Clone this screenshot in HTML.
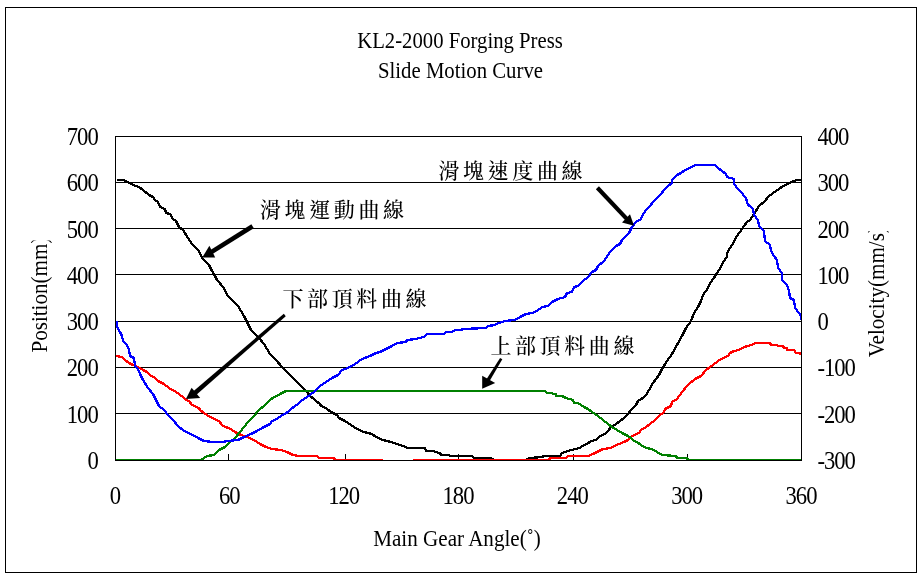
<!DOCTYPE html><html><head><meta charset="utf-8"><style>html,body{margin:0;padding:0;background:#fff;}svg{display:block;}</style></head><body><svg width="924" height="578" viewBox="0 0 924 578" font-family="Liberation Serif, Times New Roman, serif" fill="#000"><rect x="5.5" y="7.5" width="911" height="565" fill="#fff" stroke="#000" stroke-width="1"/><line x1="115" y1="182.5" x2="801" y2="182.5" stroke="#000" stroke-width="1"/><line x1="115" y1="228.5" x2="801" y2="228.5" stroke="#000" stroke-width="1"/><line x1="115" y1="274.5" x2="801" y2="274.5" stroke="#000" stroke-width="1"/><line x1="115" y1="321.5" x2="801" y2="321.5" stroke="#000" stroke-width="1"/><line x1="115" y1="367.5" x2="801" y2="367.5" stroke="#000" stroke-width="1"/><line x1="115" y1="413.5" x2="801" y2="413.5" stroke="#000" stroke-width="1"/><clipPath id="pc"><rect x="116" y="137" width="685" height="323"/></clipPath><rect x="228" y="454" width="1" height="6" fill="#000"/><rect x="345" y="454" width="1" height="6" fill="#000"/><rect x="458" y="454" width="1" height="6" fill="#000"/><rect x="573" y="454" width="1" height="6" fill="#000"/><rect x="687" y="454" width="1" height="6" fill="#000"/><g clip-path="url(#pc)"><polyline points="117,180 117,180 123,180 128,182 133,185 139,187 143,190 149,195 153,197 155,200 158,202 160,207 165,209 166,213 170,214 173,219 176,221 179,227 183,230 188,238 192,244 199,251 202,258 209,265 212,271 214,274 217,280 224,288 227,295 231,299 238,306 244,316 247,322 251,330 255,334 259,338 264,344 270,354 276,360 282,367 289,374 295,380 301,386 307,392 310,396 314,399 316,401 320,404 321,406 326,408 327,409 331,412 337,415 339,418 345,421 351,425 357,429 364,432 372,434 376,437 383,440 391,442 397,444 403,446 408,448 412,448 425,448 426,451 434,451 435,452 440,453 441,455 449,455 450,456 472,456 474,458 490,458 495,460 525,460 530,458 542,457 544,456 560,456 562,453 568,451 575,449 580,448 582,446 587,444 591,441 596,440 600,436 605,434 608,431 611,427 616,424 620,421 624,418 628,414 631,410 634,407 636,405 638,401 641,399 643,398 646,395 649,390 653,383 659,375 662,369 667,361 672,354 677,345 682,336 686,328 691,321 694,313 698,307 701,301 703,295 708,288 710,283 714,278 716,274 720,269 723,262 727,257 727,253 730,248 734,242 736,237 740,232 744,226 747,222 750,220 754,214 759,206 765,201 768,197 773,193 779,189 783,186 788,184 791,182 797,180 801,180" fill="none" stroke="#000" stroke-width="2.3" stroke-linejoin="miter" shape-rendering="crispEdges"/><polyline points="116,356 122,357 125,360 129,363 133,365 138,367 143,370 147,372 150,375 155,378 158,381 164,384 169,388 176,392 183,397 186,400 189,401 192,405 199,408 200,410 204,413 210,417 211,417 216,420 219,421 222,425 225,427 229,428 235,432 241,435 247,437 254,440 260,444 266,447 272,449 281,450 287,452 293,455 299,456 317,456 319,458 334,458 335,460 382,460 383,462 414,462 414,460 549,460 550,458 566,458 568,456 588,456 593,454 597,452 603,449 611,448 616,445 619,444 624,442 628,440 632,436 639,433 641,430 646,427 650,424 655,420 659,416 664,412 665,409 671,406 672,402 677,399 682,392 688,385 695,379 701,376 706,370 713,365 718,361 725,357 728,356 730,353 734,351 739,350 744,347 748,346 754,344 755,343 770,343 771,345 777,345 778,346 783,346 784,348 787,348 787,350 794,350 796,353 800,353 801,355" fill="none" stroke="#f00" stroke-width="2.3" stroke-linejoin="miter" shape-rendering="crispEdges"/><polyline points="115,460 201,460 207,456 214,455 219,450 225,447 229,443 235,438 240,432 244,427 248,422 254,416 258,411 265,405 270,400 274,397 277,396 280,394 286,391 545,391 547,393 552,393 553,394 556,394 556,396 562,396 566,398 573,400 574,403 578,403 584,407 588,409 592,412 598,416 603,420 608,424 612,427 617,430 622,433 628,436 631,438 634,441 637,442 641,445 646,448 652,449 657,452 662,455 676,456 677,458 687,458 688,460 801,460" fill="none" stroke="#008000" stroke-width="2.3" stroke-linejoin="miter" shape-rendering="crispEdges"/><polyline points="116,322 117,322 117,327 120,332 122,336 123,341 127,345 129,350 130,356 134,358 135,366 138,369 140,374 143,380 148,388 153,394 156,400 159,406 164,410 168,415 173,420 178,426 184,431 191,434 198,438 204,441 213,442 222,442 228,441 238,440 244,437 251,434 257,431 262,428 270,424 272,421 277,419 282,415 285,414 289,411 291,409 295,406 298,404 301,401 307,397 314,392 320,386 326,382 332,378 338,375 342,370 348,368 355,364 362,359 370,356 376,353 380,352 382,351 386,349 392,346 397,343 406,342 407,340 416,339 419,338 424,337 427,334 429,334 444,334 446,332 452,332 455,330 461,330 463,329 486,328 488,326 495,325 496,324 505,321 515,320 520,317 526,314 532,313 537,311 542,307 548,306 552,302 558,299 565,297 567,293 572,292 574,287 578,286 583,281 588,277 592,272 596,270 598,266 604,261 610,252 616,246 620,244 622,240 629,233 632,227 636,222 641,219 642,216 646,210 651,205 652,203 660,195 665,189 668,186 672,183 672,180 677,175 681,173 685,170 690,168 695,165 715,165 718,168 722,171 726,174 727,177 734,179 734,184 738,189 741,192 745,197 746,198 747,202 748,205 750,206 753,209 754,215 758,220 759,226 764,231 765,241 770,245 771,251 774,256 777,260 778,268 782,273 782,280 787,285 789,291 790,298 794,300 795,308 799,313 801,316 801,320" fill="none" stroke="#00f" stroke-width="2.3" stroke-linejoin="miter" shape-rendering="crispEdges"/></g><rect x="115.5" y="136.5" width="686" height="324" fill="none" stroke="#000" stroke-width="1"/><polygon points="251.38,224.25 208.05,251.45 210.49,255.35 253.82,228.15" fill="#000"/><polygon points="202.2,257.6 209.4,245.8 215.2,257.4" fill="#000"/><polygon points="595.87,189.24 626.87,222.06 629.93,219.18 598.93,186.36" fill="#000"/><polygon points="634.0,225.8 630.0,214.2 622.0,222.6" fill="#000"/><polygon points="283.82,313.87 191.33,392.88 194.47,396.51 285.78,316.13" fill="#000"/><polygon points="185.9,399.0 191.6,387.8 200.2,397.9" fill="#000"/><polygon points="500.09,357.92 485.22,381.24 488.28,383.13 502.31,359.28" fill="#000"/><polygon points="482.2,388.8 482.2,375.8 495.2,382.9" fill="#000"/><g ><text x="0" y="0" font-size="24" text-anchor="middle" transform="translate(460,48) scale(0.863,1)" >KL2-2000 Forging Press</text><text x="0" y="0" font-size="24" text-anchor="middle" transform="translate(460.5,77.5) scale(0.866,1)" >Slide Motion Curve</text><text x="0" y="0" font-size="24.8" text-anchor="end" transform="translate(97.7,145.0) scale(0.914,1)"  letter-spacing="-1.13">700</text><text x="0" y="0" font-size="24.8" text-anchor="end" transform="translate(97.7,191.3) scale(0.914,1)"  letter-spacing="-1.13">600</text><text x="0" y="0" font-size="24.8" text-anchor="end" transform="translate(97.7,237.6) scale(0.914,1)"  letter-spacing="-1.13">500</text><text x="0" y="0" font-size="24.8" text-anchor="end" transform="translate(97.7,283.9) scale(0.914,1)"  letter-spacing="-1.13">400</text><text x="0" y="0" font-size="24.8" text-anchor="end" transform="translate(97.7,330.1) scale(0.914,1)"  letter-spacing="-1.13">300</text><text x="0" y="0" font-size="24.8" text-anchor="end" transform="translate(97.7,376.4) scale(0.914,1)"  letter-spacing="-1.13">200</text><text x="0" y="0" font-size="24.8" text-anchor="end" transform="translate(97.7,422.7) scale(0.914,1)"  letter-spacing="-1.13">100</text><text x="0" y="0" font-size="24.8" text-anchor="end" transform="translate(97.7,469.0) scale(0.914,1)"  letter-spacing="-1.13">0</text><text x="0" y="0" font-size="24.8" text-anchor="start" transform="translate(817.5,145.0) scale(0.914,1)"  letter-spacing="-1.13">400</text><text x="0" y="0" font-size="24.8" text-anchor="start" transform="translate(817.5,191.3) scale(0.914,1)"  letter-spacing="-1.13">300</text><text x="0" y="0" font-size="24.8" text-anchor="start" transform="translate(817.5,237.6) scale(0.914,1)"  letter-spacing="-1.13">200</text><text x="0" y="0" font-size="24.8" text-anchor="start" transform="translate(817.5,283.9) scale(0.914,1)"  letter-spacing="-1.13">100</text><text x="0" y="0" font-size="24.8" text-anchor="start" transform="translate(817.5,330.1) scale(0.914,1)"  letter-spacing="-1.13">0</text><text x="0" y="0" font-size="24.8" text-anchor="start" transform="translate(817.5,376.4) scale(0.914,1)"  letter-spacing="-1.13">-100</text><text x="0" y="0" font-size="24.8" text-anchor="start" transform="translate(817.5,422.7) scale(0.914,1)"  letter-spacing="-1.13">-200</text><text x="0" y="0" font-size="24.8" text-anchor="start" transform="translate(817.5,469.0) scale(0.914,1)"  letter-spacing="-1.13">-300</text><text x="0" y="0" font-size="24.8" text-anchor="middle" transform="translate(115.0,503.5) scale(0.914,1)"  letter-spacing="-1.13">0</text><text x="0" y="0" font-size="24.8" text-anchor="middle" transform="translate(229.3,503.5) scale(0.914,1)"  letter-spacing="-1.13">60</text><text x="0" y="0" font-size="24.8" text-anchor="middle" transform="translate(343.7,503.5) scale(0.914,1)"  letter-spacing="-1.13">120</text><text x="0" y="0" font-size="24.8" text-anchor="middle" transform="translate(458.0,503.5) scale(0.914,1)"  letter-spacing="-1.13">180</text><text x="0" y="0" font-size="24.8" text-anchor="middle" transform="translate(572.3,503.5) scale(0.914,1)"  letter-spacing="-1.13">240</text><text x="0" y="0" font-size="24.8" text-anchor="middle" transform="translate(686.7,503.5) scale(0.914,1)"  letter-spacing="-1.13">300</text><text x="0" y="0" font-size="24.8" text-anchor="middle" transform="translate(801.0,503.5) scale(0.914,1)"  letter-spacing="-1.13">360</text><text x="0" y="0" font-size="23.5" text-anchor="middle" transform="translate(457,546) scale(0.898,1)" >Main Gear Angle(&#730;)</text><clipPath id="rt"><rect x="850" y="231" width="50" height="140"/></clipPath><clipPath id="lt"><rect x="20" y="240.6" width="40" height="130"/></clipPath><g clip-path="url(#lt)"><text font-size="24" text-anchor="middle" transform="translate(47,294.6) rotate(-90) scale(0.879,1)">Position(mm)</text></g><g clip-path="url(#rt)"><text font-size="24" text-anchor="middle" transform="translate(883.5,291.7) rotate(-90) scale(0.879,1)">Velocity(mm/s)</text></g><text x="260" y="216.5" font-size="21" letter-spacing="3.6" font-weight="500" font-family="Noto Serif CJK TC, Noto Serif CJK SC, serif">滑塊運動曲線</text><text x="438.5" y="178.2" font-size="21" letter-spacing="3.6" font-weight="500" font-family="Noto Serif CJK TC, Noto Serif CJK SC, serif">滑塊速度曲線</text><text x="282.5" y="306" font-size="21" letter-spacing="3.6" font-weight="500" font-family="Noto Serif CJK TC, Noto Serif CJK SC, serif">下部頂料曲線</text><text x="490.4" y="353.3" font-size="21" letter-spacing="3.6" font-weight="500" font-family="Noto Serif CJK TC, Noto Serif CJK SC, serif">上部頂料曲線</text></g></svg></body></html>
